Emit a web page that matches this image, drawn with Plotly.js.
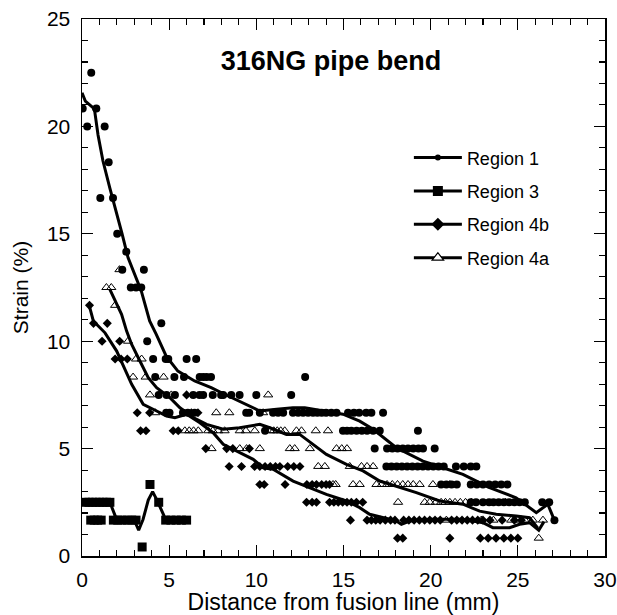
<!DOCTYPE html>
<html>
<head>
<meta charset="utf-8">
<script src="https://cdn.plot.ly/plotly-3.0.1.min.js"></script>
<style>html,body{margin:0;padding:0;background:#fff}#chart{width:617px;height:615px}</style>
</head>
<body>
<div id="chart"></div>
<script>
// ---- Data ----
const chartTitle = "316NG pipe bend";
const xTitle = "Distance from fusion line (mm)";
const yTitle = "Strain (%)";
const seriesNames = ["Region 1", "Region 3", "Region 4b", "Region 4a"];
const xTicks = [0, 5, 10, 15, 20, 25, 30];
const yTicks = [0, 5, 10, 15, 20, 25];

// Region 1 (filled circles): strain levels and the distances measured at each level
const r1Levels = [22.5, 20.83, 20.0, 18.33, 16.67, 15.0, 14.17, 13.33, 12.5, 10.83, 10.0, 9.17, 8.33, 7.5, 6.67, 5.83, 5.0, 4.17, 3.33, 2.5, 1.67];
const r1X = [
  [0.53],
  [0.04, 0.82],
  [0.3, 1.3],
  [1.53],
  [1.05, 1.78],
  [2.02],
  [2.54],
  [2.31, 3.55],
  [2.8, 3.1, 3.4],
  [4.55],
  [3.74],
  [4.08, 4.8, 4.95, 6.0, 6.55],
  [4.2, 5.3, 5.85, 6.75, 6.95, 7.15, 7.4, 12.8],
  [4.4, 4.85, 5.33, 6.38, 6.74, 6.95, 7.5, 7.98, 8.1, 8.56, 9.04, 10.0, 12.0],
  [4.83, 5.02, 5.79, 6.07, 6.46, 9.42, 9.59, 10.2, 10.96, 11.25, 11.54, 12.1, 12.4, 12.68, 12.97, 13.25, 13.5, 13.75, 14.0, 14.3, 14.6, 15.26, 15.6, 15.9, 16.3, 16.6, 17.27],
  [10.5, 14.97, 15.2, 15.45, 15.75, 16.05, 16.35, 16.7, 17.08, 19.27],
  [16.79, 17.5, 17.8, 18.1, 18.4, 18.7, 19.0, 19.3, 19.56, 20.23],
  [17.46, 17.75, 18.05, 18.35, 18.65, 18.95, 19.25, 19.55, 19.85, 20.15, 20.45, 20.75, 21.45, 21.9, 22.3, 22.62],
  [20.6, 20.9, 21.2, 21.5, 22.3, 22.65, 23.0, 23.35, 23.7, 24.05, 24.4],
  [22.3, 22.6, 23.0, 23.35, 23.6, 23.9, 24.2, 24.5, 24.8, 25.1, 25.4, 26.4, 26.8],
  [27.1]
];
const r1LineX = [0, 0.19, 0.63, 0.73, 0.92, 1.2, 1.59, 1.97, 2.3, 2.64, 3.4, 3.88, 4.26, 4.83, 5.5, 6.46, 7.41, 8.18, 9.44, 10.2, 11.16, 12.1, 12.78, 14.02, 14.97, 15.93, 16.7, 18.03, 19.56, 20.7, 21.85, 23.38, 24.9, 26.06, 26.72, 27.1];
const r1LineY = [21.57, 21.18, 20.87, 20.7, 19.6, 18.4, 17.15, 16.06, 15.0, 13.89, 12.34, 10.94, 10.32, 9.3, 8.61, 8.15, 7.84, 7.53, 7.06, 6.75, 6.83, 6.9, 6.9, 6.75, 6.6, 6.28, 5.9, 5.04, 4.42, 4.11, 3.8, 3.18, 2.71, 2.02, 2.41, 1.66];

// Region 3 (filled squares)
const r3X = [0.2, 0.4, 0.6, 0.8, 1.0, 1.2, 1.4, 1.6, 0.5, 0.7, 0.9, 1.1, 1.8, 2.05, 2.3, 2.6, 2.85, 3.1, 3.45, 3.9, 4.4, 4.8, 5.1, 5.4, 5.7, 6.0];
const r3Y = [2.5, 2.5, 2.5, 2.5, 2.5, 2.5, 2.5, 2.5, 1.67, 1.67, 1.67, 1.67, 1.67, 1.67, 1.67, 1.67, 1.67, 1.67, 0.42, 3.33, 2.5, 1.67, 1.67, 1.67, 1.67, 1.67];
const r3LineX = [0.2, 0.8, 1.6, 2.0, 2.5, 3.0, 3.25, 3.5, 3.8, 4.05, 4.3, 4.8, 5.5, 6.1];
const r3LineY = [2.5, 2.5, 2.5, 1.67, 1.67, 1.67, 1.2, 1.7, 2.6, 3.0, 2.6, 1.7, 1.67, 1.67];

// Region 4b (filled diamonds)
const r4bLevels = [11.67, 10.83, 10.0, 9.17, 7.5, 6.67, 5.83, 5.0, 4.17, 3.33, 2.5, 1.67, 0.83];
const r4bX = [
  [0.43],
  [0.66, 1.45],
  [1.15, 2.16],
  [1.9, 2.24, 2.6],
  [6.0],
  [3.17, 3.88, 6.27, 6.65],
  [3.36, 3.67, 5.23, 5.52],
  [7.1, 8.3, 8.65, 9.6],
  [8.44, 9.15, 9.9, 10.2, 10.5, 10.8, 11.1, 11.35, 11.8, 12.15, 12.5],
  [10.2, 10.45, 11.65, 12.9, 13.2, 13.45, 13.75, 14.0, 14.2],
  [12.88, 13.2, 13.45, 14.2, 14.45, 14.7, 14.95, 15.2, 15.45, 15.74, 16.1],
  [15.4, 16.35, 16.6, 16.85, 17.1, 17.4, 17.7, 17.95, 18.45, 18.75, 19.05, 19.35, 19.65, 19.95, 20.25, 20.55, 21.2, 21.5, 21.8, 22.1, 22.4, 22.7, 23.0, 23.4, 24.1, 24.8, 25.2],
  [18.1, 18.4, 21.1, 22.85, 23.3, 23.75, 24.2, 24.6, 25.0]
];
const r4bLineX = [0.42, 0.65, 1.32, 1.99, 2.85, 3.51, 4.28, 4.85, 5.33, 6.0, 6.76, 7.52, 8.1, 8.87, 9.82, 10.39, 10.96, 12.11, 13.07, 14.02, 15.17, 15.93, 16.5, 18.03, 18.32, 18.8, 19.94, 21.85, 23.0, 23.57, 24.53, 25.1, 25.67, 26.2, 26.5];
const r4bLineY = [11.64, 10.94, 10.39, 9.54, 7.99, 7.06, 6.75, 6.52, 6.44, 6.6, 6.2, 5.74, 5.2, 4.89, 4.5, 4.11, 4.04, 3.49, 3.18, 2.87, 2.56, 2.25, 1.94, 1.63, 1.48, 1.63, 1.71, 1.71, 1.55, 1.32, 1.32, 1.48, 1.55, 1.2, 1.6];

// Region 4a (open triangles)
const r4aLevels = [13.33, 12.5, 11.67, 10.0, 9.17, 8.33, 7.5, 6.67, 5.83, 5.0, 4.17, 3.33, 2.5, 1.67, 0.83];
const r4aX = [
  [2.15],
  [1.4, 1.68],
  [1.9],
  [2.64],
  [3.1, 3.42],
  [2.93, 3.65, 4.68],
  [3.9, 5.12, 10.68],
  [4.2, 7.7, 8.45, 10.39],
  [5.9, 6.15, 6.4, 6.67, 7.24, 7.5, 7.81, 8.18, 9.05, 9.4, 9.91, 10.8, 11.0, 11.2, 11.4, 11.63, 12.3, 12.59, 13.41, 14.11],
  [7.43, 9.05, 9.44, 10.2, 11.92, 12.2, 13.07, 14.6, 14.9, 15.2],
  [13.55, 13.93, 15.36, 16.03, 16.35, 16.7],
  [14.4, 14.55, 15.55, 15.93, 16.89, 17.2, 17.5, 17.8, 18.1, 18.4, 18.7, 19.0, 19.37, 20.13, 21.1],
  [18.13, 19.66, 19.95, 20.3, 20.6, 20.85, 21.1, 21.4, 21.7, 22.0, 22.33, 24.3],
  [20.9, 22.9, 23.6, 24.62, 25.0, 25.4, 25.86, 26.44],
  [26.2]
];
const r4aLineX = [1.59, 1.89, 2.27, 2.56, 2.85, 3.32, 3.8, 4.28, 5.04, 5.62, 6.38, 7.15, 8.1, 9.05, 10.2, 10.77, 11.73, 12.49, 13.25, 14.02, 15.17, 16.12, 17.08, 18.03, 19.18, 20.52, 21.85, 22.81, 23.76, 24.91, 25.67, 26.15];
const r4aLineY = [12.42, 11.87, 11.25, 10.47, 9.85, 9.08, 8.3, 7.84, 7.37, 6.9, 6.44, 6.13, 5.9, 5.97, 6.13, 5.97, 5.66, 5.66, 5.2, 4.73, 4.27, 3.96, 3.49, 3.26, 2.95, 2.56, 2.41, 2.09, 1.94, 1.86, 1.78, 1.3];

// ---- Build traces ----
function flatten(levels, xs) {
  const x = [], y = [];
  levels.forEach((lv, i) => xs[i].forEach(v => { x.push(v); y.push(lv); }));
  return {x, y};
}
const r1 = flatten(r1Levels, r1X);
const r4b = flatten(r4bLevels, r4bX);
const r4a = flatten(r4aLevels, r4aX);

const lineStyle = {color: '#000', width: 3};
const mk = {
  r1: {symbol: 'circle', size: 8, color: '#000'},
  r3: {symbol: 'square', size: 9, color: '#000'},
  r4b: {symbol: 'diamond', size: 7, color: '#000'},
  r4a: {symbol: 'triangle-up-open', size: 8, color: '#000', line: {width: 1, color: '#000'}}
};
const mkLeg = {
  r1: {symbol: 'circle', size: 6, color: '#000'},
  r3: {symbol: 'square', size: 10, color: '#000'},
  r4b: {symbol: 'diamond', size: 10, color: '#000'},
  r4a: {symbol: 'triangle-up', size: 10, color: '#fff', line: {width: 1.2, color: '#000'}}
};

const traces = [
  {x: r1.x, y: r1.y, mode: 'markers', marker: mk.r1, showlegend: false},
  {x: r1LineX, y: r1LineY, mode: 'lines', line: lineStyle, showlegend: false},
  {x: r4a.x, y: r4a.y, mode: 'markers', marker: mk.r4a, showlegend: false},
  {x: r4aLineX, y: r4aLineY, mode: 'lines', line: lineStyle, showlegend: false},
  {x: r4b.x, y: r4b.y, mode: 'markers', marker: mk.r4b, showlegend: false},
  {x: r4bLineX, y: r4bLineY, mode: 'lines', line: lineStyle, showlegend: false},
  {x: r3X, y: r3Y, mode: 'markers', marker: mk.r3, showlegend: false},
  {x: r3LineX, y: r3LineY, mode: 'lines', line: lineStyle, showlegend: false},
  // legend entries
  {x: [null], y: [null], name: seriesNames[0], mode: 'lines+markers', line: lineStyle, marker: mkLeg.r1, legendgroup: 'a'},
  {x: [null], y: [null], name: seriesNames[1], mode: 'lines+markers', line: lineStyle, marker: mkLeg.r3, legendgroup: 'b'},
  {x: [null], y: [null], name: seriesNames[2], mode: 'lines+markers', line: lineStyle, marker: mkLeg.r4b, legendgroup: 'c'},
  {x: [null], y: [null], name: seriesNames[3], mode: 'lines+markers', line: lineStyle, marker: mkLeg.r4a, legendgroup: 'd'}
];

const fontFam = 'Liberation Sans, Arial, sans-serif';
const axisCommon = {
  showgrid: false, zeroline: false,
  showline: true, linecolor: '#000', linewidth: 1.5, mirror: 'allticks',
  ticks: 'inside', ticklen: 11, tickwidth: 1.3, tickcolor: '#000',
  minor: {dtick: 1, ticks: 'inside', ticklen: 6, tickwidth: 1.1, tickcolor: '#000'},
  tickfont: {family: fontFam, size: 21, color: '#000'},
  fixedrange: true
};

const layout = {
  width: 617, height: 615,
  margin: {l: 82, r: 12, t: 19, b: 59},
  paper_bgcolor: '#fff', plot_bgcolor: '#fff',
  font: {family: fontFam, color: '#000'},
  title: {text: '<b>' + chartTitle + '</b>', font: {family: fontFam, size: 27, color: '#000'},
          xref: 'paper', x: 0.476, xanchor: 'center', yref: 'container', y: 0.902, yanchor: 'middle'},
  xaxis: Object.assign({}, axisCommon, {range: [0, 30], tickvals: xTicks, ticklabelstandoff: 4,
    title: {text: xTitle, font: {family: fontFam, size: 23, color: '#000'}, standoff: 2}}),
  yaxis: Object.assign({}, axisCommon, {range: [0, 25], tickvals: yTicks, ticklabelstandoff: 6,
    title: {text: yTitle, font: {family: fontFam, size: 21, color: '#000'}, standoff: 12}}),
  legend: {x: 0.625, xanchor: 'left', y: 0.776, yanchor: 'top', bgcolor: 'rgba(0,0,0,0)',
    font: {family: fontFam, size: 18, color: '#000'}, traceorder: 'grouped', tracegroupgap: 7,
    itemwidth: 48},
  showlegend: true
};

Plotly.newPlot('chart', traces, layout, {staticPlot: true, displayModeBar: false});
</script>
</body>
</html>
